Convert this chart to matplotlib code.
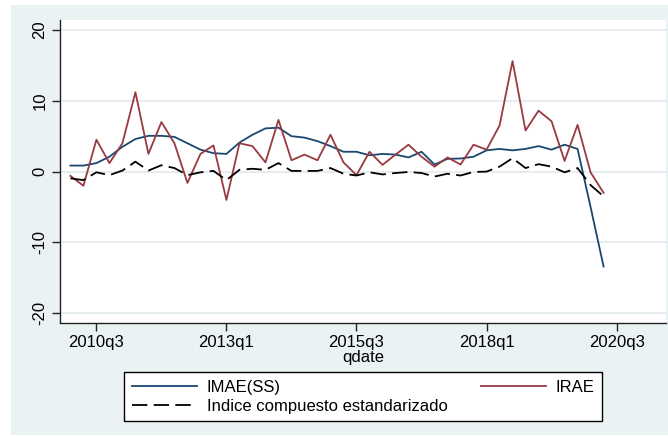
import numpy as np
import matplotlib
matplotlib.use('Agg')
import matplotlib.pyplot as plt
from matplotlib.patches import Rectangle

# quarters as Stata %tq numbers (200 = 2010q1 ... 241 = 2020q2)
qdate = list(range(200, 242))

imae = [0.85, 0.85, 1.2, 2.1, 3.5, 4.6, 5.05, 5.05, 4.9, 4.0,
        3.1, 2.6, 2.5, 4.1, 5.2, 6.1, 6.2, 5.0, 4.8, 4.3,
        3.6, 2.8, 2.8, 2.3, 2.5, 2.4, 2.0, 2.8, 1.0, 1.8,
        1.85, 2.1, 3.0, 3.2, 3.0, 3.2, 3.6, 3.1, 3.8, 3.2,
        -5.0, -13.4]

irae = [-0.6, -2.0, 4.5, 1.2, 4.0, 11.2, 2.5, 7.0, 4.0, -1.6,
        2.5, 3.7, -4.0, 4.0, 3.6, 1.3, 7.3, 1.6, 2.4, 1.6,
        5.2, 1.3, -0.5, 2.8, 0.95, 2.4, 3.8, 2.1, 0.7, 2.0,
        1.0, 3.8, 3.1, 6.5, 15.6, 5.8, 8.6, 7.1, 1.5, 6.6,
        -0.1, -3.0]

indice = [-0.95, -1.2, -0.1, -0.5, 0.15, 1.4, 0.15, 0.9, 0.5, -0.5,
          -0.1, 0.1, -1.2, 0.25, 0.4, 0.25, 1.2, 0.1, 0.1, 0.1,
          0.5, -0.3, -0.55, -0.1, -0.4, -0.2, -0.05, -0.2, -0.7, -0.3,
          -0.55, -0.05, 0.0, 0.7, 1.9, 0.5, 1.05, 0.7, -0.1, 0.5,
          -1.9, -3.5]

xtick_pos = [202, 212, 222, 232, 242]
xtick_labels = ['2010q3', '2013q1', '2015q3', '2018q1', '2020q3']
ytick_pos = [-20, -10, 0, 10, 20]

plt.rcParams['font.family'] = ['Liberation Sans', 'DejaVu Sans']
plt.rcParams['font.size'] = 12
plt.rcParams['axes.unicode_minus'] = False

fig = plt.figure(figsize=(6.68, 4.36), dpi=100, facecolor='white')
# Stata graph region (light bluish gray), drawn behind the axes
fig.patches.append(Rectangle((11 / 668, 1 / 436), 1, 430 / 436,
                             transform=fig.transFigure, facecolor='#eaf2f3',
                             edgecolor='none', zorder=-10))

ax = fig.add_axes([60 / 668, 1 - 322.5 / 436, 606 / 668, 302.5 / 436])
ax.set_facecolor('white')

ax.plot(qdate, imae, color='#1a476f', linewidth=1.3, label='IMAE(SS)', zorder=3)
ax.plot(qdate, irae, color='#983a40', linewidth=1.3, label='IRAE', zorder=3)
ax.plot(qdate, indice, color='black', linewidth=1.3, dashes=(8.5, 3.5),
        label='Indice compuesto estandarizado', zorder=3)

ax.set_xlim(199.2, 245.8)
ax.set_ylim(-21.3, 21.4)
ax.set_xticks(xtick_pos)
ax.set_xticklabels(xtick_labels)
ax.set_yticks(ytick_pos)
ax.set_yticklabels([str(v) for v in ytick_pos], rotation=90, va='center')

ax.grid(axis='y', color='#e1eaec', linewidth=1.2, zorder=0)
ax.set_axisbelow(True)

for side in ['top', 'right']:
    ax.spines[side].set_visible(False)
for side in ['left', 'bottom']:
    ax.spines[side].set_color('#222222')
    ax.spines[side].set_linewidth(1.0)
ax.tick_params(axis='both', direction='out', length=5.5, width=1.0,
               color='#222222', labelsize=12, pad=3.5)

ax.set_xlabel('qdate', fontsize=12, labelpad=0)

handles, labels = ax.get_legend_handles_labels()
order = [0, 2, 1]
leg = fig.legend([handles[i] for i in order], [labels[i] for i in order],
                 loc='center', bbox_to_anchor=(363.3 / 668, 1 - 396.7 / 436),
                 ncol=2, frameon=True, fancybox=False, shadow=False,
                 framealpha=1.0, handlelength=3.9, handletextpad=0.6,
                 columnspacing=2.0, labelspacing=0.25, borderpad=0.45,
                 fontsize=12)
leg.get_frame().set_edgecolor('black')
leg.get_frame().set_linewidth(1.0)
leg.get_frame().set_facecolor('white')

fig.savefig('out.png', dpi=100, facecolor=fig.get_facecolor())
